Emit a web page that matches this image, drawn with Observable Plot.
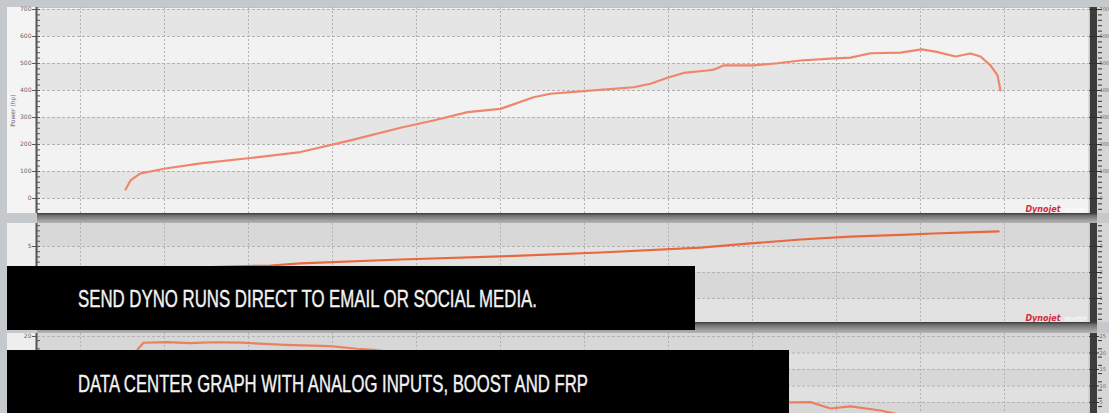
<!DOCTYPE html>
<html><head><meta charset="utf-8">
<script src="https://cdn.jsdelivr.net/npm/d3@7"></script>
<script src="https://cdn.jsdelivr.net/npm/@observablehq/plot@0.6"></script>
<style>
html,body{margin:0;padding:0;width:1109px;height:413px;overflow:hidden;background:#c6c9cc;}
#root{position:relative;width:1109px;height:413px;overflow:hidden;}
.d{position:absolute;}
.sep{position:absolute;left:37px;width:1060px;background:linear-gradient(#3a3a3a,#6e6e6e 25%,#9c9c9c 70%,#b4b4b4);}
</style></head><body>
<div id="root"></div>
<script>
// ---------- data ----------
const rpmGrid = [1,2,3,4,5,6,7,8,9,10,11,12];
const xDomain = [0.488, 13.0];

// Panel 1: power
const powerTicks = [0,100,200,300,400,500,600,700];
const powerMinor = d3.range(-40, 701, 20);
const powerBands = [[0,100],[200,300],[400,500],[600,700]];
const powerRpm = [1.536,1.595,1.714,1.833,2.012,2.429,3.024,3.619,4.214,4.810,5.202,5.607,6.0,6.393,6.595,6.988,7.583,7.786,7.988,8.179,8.464,8.536,8.655,9.012,9.298,9.571,9.929,10.167,10.405,10.762,11.012,11.179,11.417,11.595,11.714,11.833,11.917,11.952];
const powerHp  = [33,67,93,100,111,130,150,172,215,262,289,320,332,375,388,398,412,425,447,465,474,477,493,493,501,511,518,522,538,540,552,544,526,537,526,493,456,400];

// Panel 2
const p2Ticks = [1,2,3];
const p2Minor = d3.range(0.2, 3.9, 0.2);
const p2LeftLabels = ["3","4","5"];
const p2RightLabels = ["1","2","3"];
const p2Bands = [[1,2],[3,4]];
const p2Rpm = [1.536,2.429,3.262,3.619,4.810,6.0,7.19,8.381,8.976,9.571,10.167,10.845,11.155,11.56,11.93];
const p2Val = [2.08,2.2,2.27,2.35,2.5,2.62,2.77,2.96,3.12,3.27,3.38,3.46,3.5,3.54,3.58];

// Panel 3
const p3Ticks = [12,14,16,18,20];
const p3Minor = d3.range(9.5, 20.4, 1);
const p3LeftLabels = ["12","14","16","18","20"];
const p3RightLabels = ["5","10","15","20","25"];
const p3Bands = [[10,12],[14,16],[18,21]];
const p3Rpm = [1.679,1.75,2.03,2.3,2.6,2.91,3.43,3.97,4.29,4.49,6.0,8.0,9.452,9.69,9.929,10.167,10.524,10.76];
const p3Val = [18.42,19.24,19.31,19.2,19.3,19.25,18.99,18.82,18.51,18.39,16.5,13.6,12.0,12.04,11.27,11.52,11.03,10.5];

const root = document.getElementById("root");
function div(css){const e=document.createElement("div");e.className="d";e.style.cssText=css;root.appendChild(e);return e;}

function panel(o){
  div(`left:7px;top:${o.top}px;width:30px;height:${o.height}px;background:${o.colFill};`);
  div(`left:1097px;top:${o.top}px;width:12px;height:${o.height}px;background:#d6d6d6;`);
  div(`left:1090px;top:${o.top}px;width:7px;height:${o.height}px;background:#3c3c3c;`);
  const data = o.xs.map((x,i)=>({x, y:o.ys[i]}));
  const logo = o.logo ? [
      Plot.text(["Dynojet"], {text:d=>d, frameAnchor:"bottom-right", dx:-28, dy:-2, lineAnchor:"bottom", textAnchor:"end",
        fill:"#d8283c", fontWeight:"bold", fontStyle:"italic", fontSize:8}),
      Plot.text(["WinPEP"], {text:d=>d, frameAnchor:"bottom-right", dx:-2, dy:-2, lineAnchor:"bottom", textAnchor:"end",
        fill:"#ffffff", fontSize:6})
  ] : [];
  const chart = Plot.plot({
    width:1102, height:o.height,
    marginLeft:30, marginRight:21, marginTop:0, marginBottom:0,
    style:{background:"transparent", overflow:"visible", fontFamily:"DejaVu Sans, sans-serif"},
    x:{domain:xDomain, axis:null},
    y:{domain:o.yDomain, axis:null},
    marks:[
      Plot.frame({fill:o.baseFill}),
      Plot.rectY(o.bands, {y1:d=>d[0], y2:d=>d[1], fill:o.bandFill}),
      Plot.ruleX(rpmGrid, {stroke:"#b2b2b2", strokeDasharray:"2,2"}),
      Plot.ruleY(o.ticks, {stroke:"#b2b2b2", strokeDasharray:"3,2"}),
      Plot.line(data, {x:"x", y:"y", stroke:o.stroke, strokeWidth:2.2, strokeLinejoin:"round"}),
      Plot.ruleX([xDomain[0]], {stroke:"#555", strokeWidth:2, dx:-1}),
      Plot.axisY(o.minor, {anchor:"left", tickSize:3, dx:3, text:null, stroke:"#555", label:null}),
      Plot.axisY(o.ticks, {anchor:"left", tickSize:5, tickPadding:1, fontSize:6, fill:"#666", stroke:"#555",
        tickFormat:d=>o.leftLabels[o.ticks.indexOf(d)], label:o.ylabel ?? null, labelAnchor:"center", labelOffset:27, labelArrow:"none"}),
      Plot.axisY(o.minor, {anchor:"right", tickSize:4, dx:9, text:null, stroke:"#333", label:null}),
      Plot.axisY(o.ticks, {anchor:"right", tickSize:10, tickPadding:1, fontSize:5, fill:"#666", stroke:"#333",
        tickFormat:d=>o.rightLabels[o.ticks.indexOf(d)], label:null}),
      ...logo
    ]
  });
  chart.style.position = "absolute";
  chart.style.left = "7px";
  chart.style.top = o.top + "px";
  root.appendChild(chart);
}

div("left:37px;top:7px;width:1060px;height:1px;background:#8e8e8e;");

panel({top:7, height:206, yDomain:[-55.6,707.4], ticks:powerTicks, minor:powerMinor,
  leftLabels:powerTicks.map(String), rightLabels:powerTicks.map(String), bands:powerBands,
  baseFill:"#f2f2f2", bandFill:"#e5e5e5", colFill:"#f4f4f4",
  xs:powerRpm, ys:powerHp, stroke:"#ef866b", ylabel:"Power (hp)", logo:true});

panel({top:223, height:99, yDomain:[0.077,3.885], ticks:p2Ticks, minor:p2Minor,
  leftLabels:p2LeftLabels, rightLabels:p2RightLabels, bands:p2Bands,
  baseFill:"#e2e2e2", bandFill:"#d8d8d8", colFill:"#efefef",
  xs:p2Rpm, ys:p2Val, stroke:"#e9673f", logo:true});

panel({top:333, height:90, yDomain:[9.45,20.36], ticks:p3Ticks, minor:p3Minor,
  leftLabels:p3LeftLabels, rightLabels:p3RightLabels, bands:p3Bands,
  baseFill:"#e0e0e0", bandFill:"#d7d7d7", colFill:"#eeeeee",
  xs:p3Rpm, ys:p3Val, stroke:"#ea8060", logo:false});

const s1 = document.createElement("div"); s1.className="sep"; s1.style.cssText="top:213px;height:10px;"; root.appendChild(s1);
const s2 = document.createElement("div"); s2.className="sep"; s2.style.cssText="top:322px;height:11px;"; root.appendChild(s2);

const banners = [
  {x:7, y:266, w:688, h:64, tx:78, ty:307, len:459, text:"SEND DYNO RUNS DIRECT TO EMAIL OR SOCIAL MEDIA."},
  {x:7, y:350, w:782, h:70, tx:78, ty:392, len:510, text:"DATA CENTER GRAPH WITH ANALOG INPUTS, BOOST AND FRP"}
];
const ov = d3.select(root).append("svg").attr("width",1109).attr("height",413)
  .style("position","absolute").style("left","0px").style("top","0px");
const g = ov.selectAll("g").data(banners).join("g");
g.append("rect").attr("x",d=>d.x).attr("y",d=>d.y).attr("width",d=>d.w).attr("height",d=>d.h).attr("fill","#000");
g.append("text").attr("x",d=>d.tx).attr("y",d=>d.ty).attr("textLength",d=>d.len).attr("lengthAdjust","spacingAndGlyphs")
  .attr("fill","#f3f3f3").style("font-family","'Liberation Sans Narrow','Liberation Sans','DejaVu Sans Condensed',sans-serif")
  .style("font-size","24px").style("stroke","#f3f3f3").style("stroke-width","0.4px").text(d=>d.text);
</script>
</body></html>
